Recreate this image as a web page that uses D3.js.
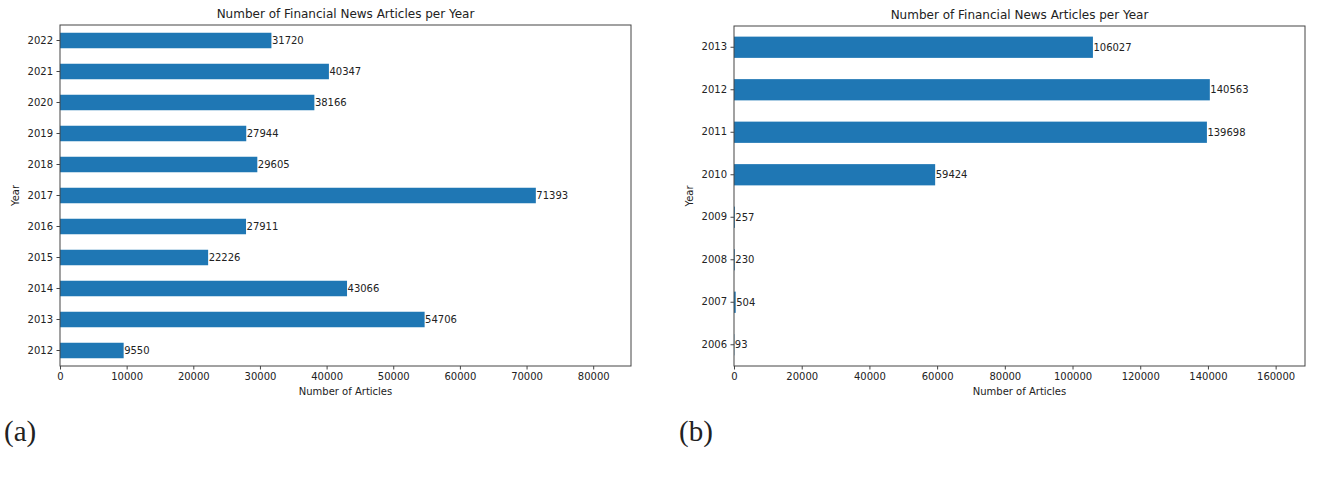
<!DOCTYPE html>
<html>
<head>
<meta charset="utf-8">
<script src="https://cdn.jsdelivr.net/npm/d3@7"></script>
<style>
  body { margin: 0; background: #fff; }
  svg { display: block; font-family: "DejaVu Sans", sans-serif; }
</style>
</head>
<body>
<div id="chart"></div>
<script>
// Panel (a): 2012-2022
const yearsA = ["2012", "2013", "2014", "2015", "2016", "2017", "2018", "2019", "2020", "2021", "2022"];
const countsA = [9550, 54706, 43066, 22226, 27911, 71393, 29605, 27944, 38166, 40347, 31720];
const ticksA = [0, 10000, 20000, 30000, 40000, 50000, 60000, 70000, 80000];

// Panel (b): 2006-2013
const yearsB = ["2006", "2007", "2008", "2009", "2010", "2011", "2012", "2013"];
const countsB = [93, 504, 230, 257, 59424, 139698, 140563, 106027];
const ticksB = [0, 20000, 40000, 60000, 80000, 100000, 120000, 140000, 160000];

const width = 1325, height = 483;

const svg = d3.select("#chart")
    .append("svg")
    .attr("width", width)
    .attr("height", height);

svg.append("rect")
    .attr("width", width)
    .attr("height", height)
    .attr("fill", "#fff");

function drawPanel(box, years, counts, ticks, tag) {
    const g = svg.append("g");

    // x limit is 1.2 times the largest bar, as in the source plot
    const x = d3.scaleLinear()
        .domain([0, d3.max(counts) * 1.2])
        .range([box.left, box.right]);

    // first year at the bottom, like pandas barh
    const y = d3.scaleBand()
        .domain(years.slice().reverse())
        .range([box.top, box.bottom])
        .paddingInner(0.5)
        .paddingOuter(0.25);

    const rows = years.map((yr, i) => ({year: yr, count: counts[i]}));

    // bars
    g.selectAll(".bar")
        .data(rows)
        .enter().append("rect")
        .attr("class", "bar")
        .attr("x", x(0))
        .attr("y", d => y(d.year))
        .attr("width", d => x(d.count) - x(0))
        .attr("height", y.bandwidth())
        .attr("fill", "#1f77b4");

    // value labels at bar ends
    g.selectAll(".val")
        .data(rows)
        .enter().append("text")
        .attr("class", "val")
        .attr("x", d => x(d.count) + 0.5)
        .attr("y", d => y(d.year) + y.bandwidth() / 2)
        .attr("dy", "0.35em")
        .style("font-size", "10px")
        .style("fill", "#222")
        .text(d => d.count);

    // axes
    const xAxis = g.append("g")
        .attr("transform", `translate(0,${box.bottom})`)
        .call(d3.axisBottom(x).tickValues(ticks).tickFormat(d3.format("d")).tickSize(3.5).tickPadding(3.5));

    const yAxis = g.append("g")
        .attr("transform", `translate(${box.left},0)`)
        .call(d3.axisLeft(y).tickSize(3.5).tickPadding(3.5));

    [xAxis, yAxis].forEach(a => {
        a.select(".domain").remove();
        a.selectAll("line").attr("stroke", "#444");
        a.selectAll("text")
            .style("font-size", "10px")
            .style("font-family", "DejaVu Sans, sans-serif")
            .attr("fill", "#222");
    });

    // frame
    g.append("rect")
        .attr("x", box.left)
        .attr("y", box.top)
        .attr("width", box.right - box.left)
        .attr("height", box.bottom - box.top)
        .attr("fill", "none")
        .attr("stroke", "#444")
        .attr("stroke-width", 1);

    const cx = (box.left + box.right) / 2;

    g.append("text")
        .attr("x", cx)
        .attr("y", box.top - 7)
        .attr("text-anchor", "middle")
        .style("font-size", "12px")
        .style("fill", "#222")
        .text("Number of Financial News Articles per Year");

    g.append("text")
        .attr("x", cx)
        .attr("y", box.bottom + 29)
        .attr("text-anchor", "middle")
        .style("font-size", "10px")
        .style("fill", "#222")
        .text("Number of Articles");

    g.append("text")
        .attr("transform", `translate(${box.left - 41},${(box.top + box.bottom) / 2}) rotate(-90)`)
        .attr("text-anchor", "middle")
        .style("font-size", "10px")
        .style("fill", "#222")
        .text("Year");

    // sub-figure tag
    g.append("text")
        .attr("x", box.tagX)
        .attr("y", 441)
        .style("font-family", "Liberation Serif, serif")
        .style("font-size", "29px")
        .style("fill", "#222")
        .text(tag);
}

drawPanel({left: 60, right: 631, top: 25, bottom: 366, tagX: 4}, yearsA, countsA, ticksA, "(a)");
drawPanel({left: 734, right: 1305, top: 26, bottom: 366, tagX: 679}, yearsB, countsB, ticksB, "(b)");
</script>
</body>
</html>
